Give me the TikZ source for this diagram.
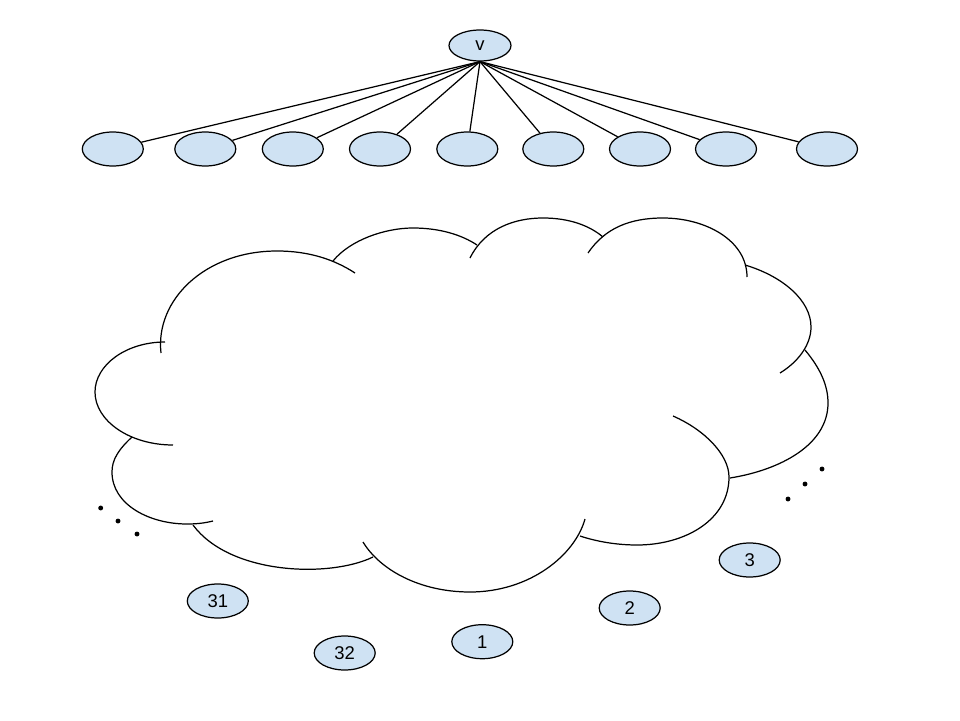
\documentclass[tikz,border=0pt]{standalone}
\usepackage{fontspec}
\setmainfont{Liberation Sans}
\usetikzlibrary{positioning, shapes.geometric}
\definecolor{nodeblue}{HTML}{CFE2F3}

\begin{document}
\begin{tikzpicture}[
  x=0.02cm, y=-0.02cm,
  every node/.style={font=\fontsize{10.5}{12}\selectfont},
  vert/.style   = {ellipse, draw=black, fill=nodeblue, line width=0.7pt, inner sep=0pt, minimum width=1.22cm, minimum height=0.68cm},
  root/.style   = {vert, minimum width=1.24cm, minimum height=0.62cm},
  edge/.style   = {black, line width=0.7pt},
  bump/.style   = {black, line width=0.7pt},
  dotmark/.style = {fill=black},
]
  \useasboundingbox (0,0) rectangle (960,720);

  % root and its neighbours
  \node[root] (v) at (480,45.5) {v};
  \foreach \n/\x in {n1/112.8, n2/205.3, n3/292.8, n4/380, n5/467.3, n6/553.3, n7/640, n8/726, n9/827}
     \node[vert] (\n) at (\x,149) {};
  \foreach \n in {n1, n2, n3, n4, n5, n6, n7, n8, n9}
     \draw[edge] (v.south) -- (\n);

  % the cloud, one bump at a time
  \draw[bump] (165,342) .. controls (126,342) and (95,365) .. (95,392)
                        .. controls (95,421) and (130,445) .. (173,445);
  \draw[bump] (161,353) .. controls (155,300) and (205,251) .. (277,251)
                        .. controls (310,251) and (335,260) .. (355,273);
  \draw[bump] (333,261) .. controls (350,240) and (385,228) .. (413,228)
                        .. controls (440,228) and (462,235) .. (477,245);
  \draw[bump] (470,258) .. controls (485,228) and (515,218) .. (543,218)
                        .. controls (570,218) and (590,226) .. (603,237);
  \draw[bump] (588,253) .. controls (605,228) and (630,218) .. (663,218)
                        .. controls (705,218) and (747,240) .. (747,277);
  \draw[bump] (745,265) .. controls (782,276) and (811,300) .. (811,327)
                        .. controls (811,345) and (798,362) .. (780,373);
  \draw[bump] (805,350) .. controls (820,368) and (828,385) .. (828,403)
                        .. controls (828,445) and (780,470) .. (730,478);
  \draw[bump] (673,416) .. controls (705,430) and (729,455) .. (729,477)
                        .. controls (729,520) and (685,545) .. (637,545)
                        .. controls (615,545) and (595,541) .. (580,536);
  \draw[bump] (585,519) .. controls (575,555) and (530,592) .. (470,592)
                        .. controls (420,592) and (380,570) .. (363,542);
  \draw[bump] (373,557) .. controls (330,578) and (230,575) .. (193,525);
  \draw[bump] (132,437) .. controls (118,450) and (112,460) .. (112,472)
                        .. controls (112,505) and (150,524) .. (187,524)
                        .. controls (197,524) and (205,523) .. (213,521);

  % dots
  \foreach \p in {(100.7,508), (118,521), (137,534), (788,499), (805,484), (822,469)}
     \fill[dotmark] \p circle[radius=1.4pt];

  % numbered nodes round the cloud
  \node[vert] (c31) at (217.8,601) {31};
  \node[vert] (c32) at (344.7,653) {32};
  \node[vert] (c1)  at (482.3,641.7) {1};
  \node[vert] (c2)  at (629.7,608) {2};
  \node[vert] (c3)  at (749.7,560) {3};
\end{tikzpicture}
\end{document}
